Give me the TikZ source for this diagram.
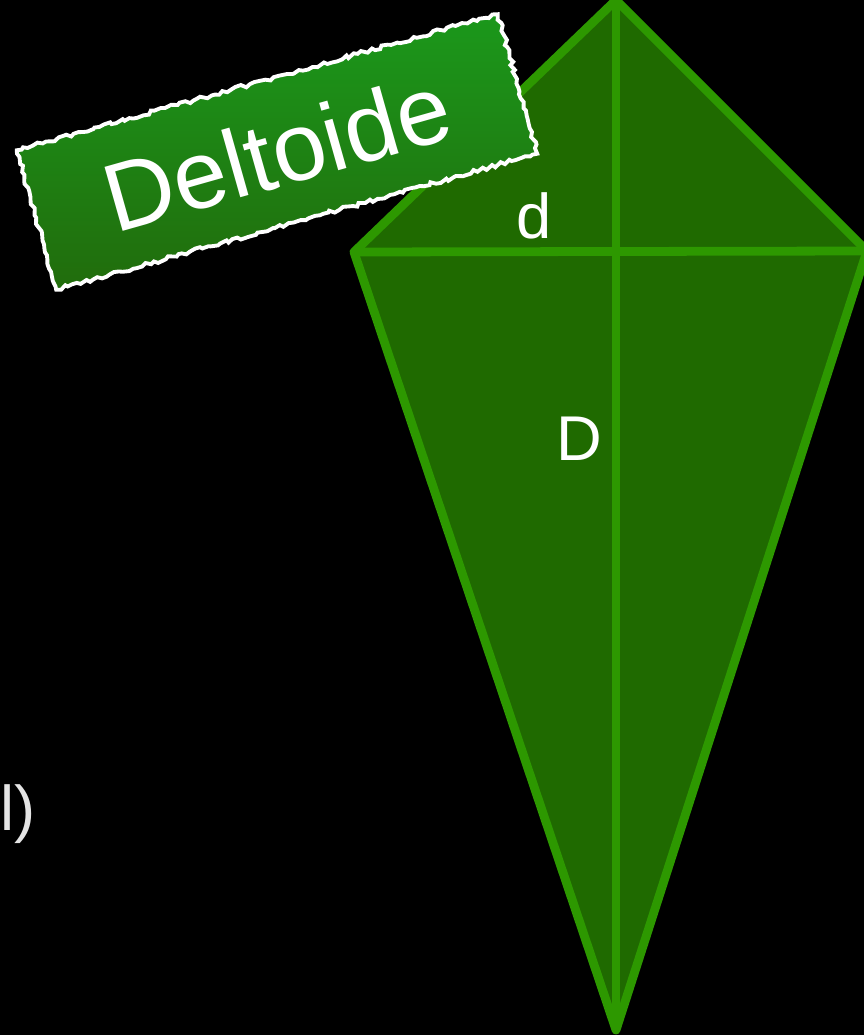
\documentclass[tikz,border=0pt]{standalone}
\usepackage{fontspec}
\setmainfont{Liberation Sans}
\usepackage{xcolor}
\usetikzlibrary{positioning, shapes, decorations.pathmorphing}

\definecolor{kitefill}{RGB}{31,106,0}
\definecolor{kiteline}{RGB}{45,152,0}
\definecolor{tagtop}{RGB}{27,152,27}
\definecolor{tagbottom}{RGB}{33,108,12}
\definecolor{greytext}{RGB}{228,228,228}

\tikzset{
    kite line/.style={draw=kiteline, line width=5pt, line join=round},
    letter/.style={text=white, font=\fontsize{36}{40}\selectfont, inner sep=0pt},
    tag/.style={rectangle, draw=white, line width=2.2pt, top color=tagtop, bottom color=tagbottom,
        decorate, decoration={random steps, segment length=2.5pt, amplitude=1.1pt},
        text=white, font=\fontsize{55}{60}\selectfont}
}

\begin{document}
\begin{tikzpicture}[x=0.02cm, y=-0.02cm]
        % Background
        \fill[black] (0,0) rectangle (864,1035);
        \useasboundingbox (0,0) rectangle (864,1035);
        
        % Kite corners
        \coordinate (top) at (616,0);
        \coordinate (left) at (354,252);
        \coordinate (right) at (867,251);
        \coordinate (bottom) at (616,1030);
        
        % Kite
        \filldraw[kite line, fill=kitefill] (top) -- (right) -- (bottom) -- (left) -- cycle;
        
        % Diagonals
        \draw[kite line] (top) -- (bottom);
        \draw[kite line] (left) -- (right);
        
        % Labels
        \node (small) [letter, anchor=base] at (534,238) {d};
        \node (large) [letter, anchor=base] at (579,460) {D};
        \node (cut) [letter, text=greytext, anchor=base west] at (0,830) {l)};
        
        % Title tag
        \node (title) [tag, rotate=15.8, minimum width=10cm, minimum height=2.9cm] at (277,152) {Deltoide};
    \end{tikzpicture}
\end{document}
